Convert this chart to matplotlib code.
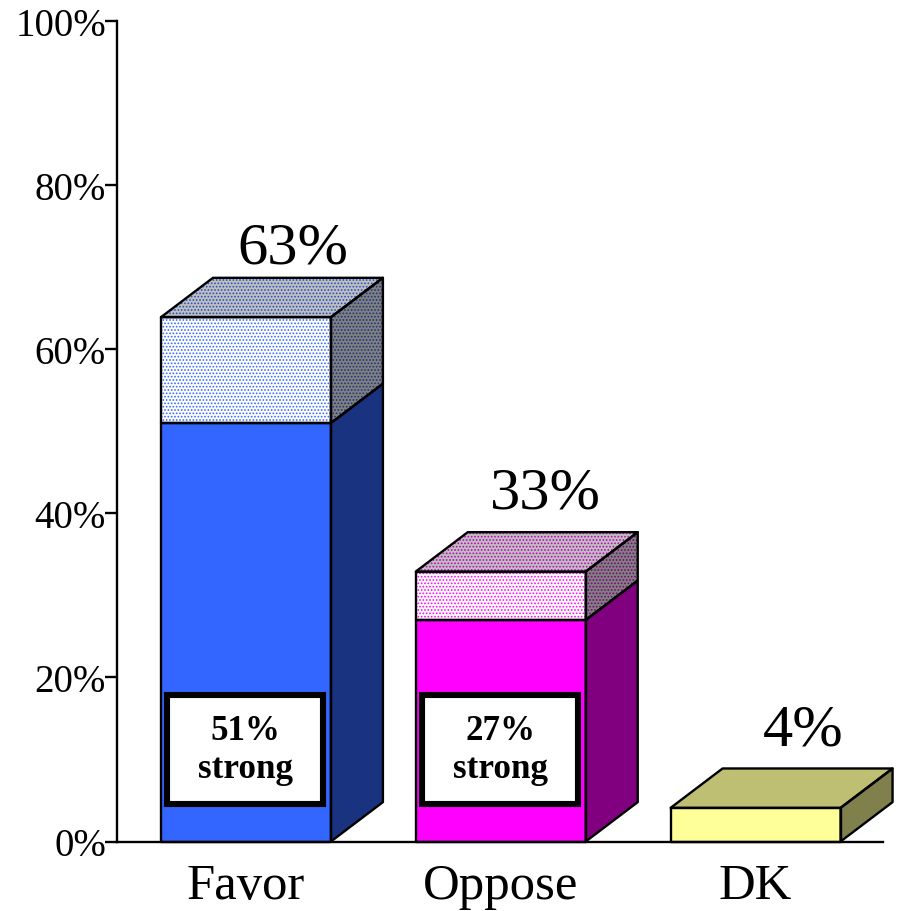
import matplotlib
matplotlib.use("Agg")
import matplotlib.pyplot as plt
from matplotlib.patches import Polygon, Rectangle

plt.rcParams['font.family'] = ['Liberation Serif', 'DejaVu Serif']
plt.rcParams['hatch.linewidth'] = 0.8

categorias = ["Favor", "Oppose", "DK"]
alturas = [63.9, 32.9, 4.1]
fortes = [51, 27, 4.1]
rotulos = ["63%", "33%", "4%"]
rotulos_y = [70.6, 40.7, 11.8]
rotulos_x = [0.185, 0.175, 0.187]
rotulos_fortes = ["51%\nstrong", "27%\nstrong", None]
cores = ["#3366ff", "#ff00ff", "#ffff99"]
yticks = [0, 20, 40, 60, 80, 100]

largura = 0.667
dx = 0.204
dy = 4.8
lw = 1.7


def escurece(cor, f):
    r, g, b = matplotlib.colors.to_rgb(cor)
    return (r * f, g * f, b * f)


def face(ax, pontos, cor, hatch_cor=None):
    # preenchimento primeiro, depois pontilhado, depois o contorno
    ax.add_patch(Polygon(pontos, closed=True, facecolor=cor, edgecolor='none', zorder=3, clip_on=False))
    if hatch_cor is not None:
        ax.add_patch(Polygon(pontos, closed=True, facecolor='none', edgecolor=hatch_cor,
                             hatch='.....', linewidth=0, zorder=3, clip_on=False))
    ax.add_patch(Polygon(pontos, closed=True, facecolor='none', edgecolor='black',
                         linewidth=lw, joinstyle='round', zorder=4, clip_on=False))


fig = plt.figure(figsize=(9, 9.12), dpi=100)
ax = fig.add_axes([117 / 900, 69.5 / 912, 766 / 900, 820.5 / 912])
ax.set_xlim(-0.506, 2.5)
ax.set_ylim(0, 100)

for i, cat in enumerate(categorias):
    x0 = i - largura / 2
    x1 = i + largura / 2
    h = alturas[i]
    s = fortes[i]
    cor = cores[i]
    tem_parte_fraca = h - s > 0.5

    # parte forte
    face(ax, [(x0, 0), (x1, 0), (x1, s), (x0, s)], cor)
    face(ax, [(x1, 0), (x1 + dx, dy), (x1 + dx, s + dy), (x1, s)], escurece(cor, 0.5))

    if tem_parte_fraca:
        face(ax, [(x0, s), (x1, s), (x1, h), (x0, h)], 'white', cor)
        face(ax, [(x1, s), (x1 + dx, s + dy), (x1 + dx, h + dy), (x1, h)],
             '#808080', escurece(cor, 0.5))
        face(ax, [(x0, h), (x1, h), (x1 + dx, h + dy), (x0 + dx, h + dy)],
             '#bfbfbf', escurece(cor, 0.75))
    else:
        face(ax, [(x0, h), (x1, h), (x1 + dx, h + dy), (x0 + dx, h + dy)],
             escurece(cor, 0.75))

    ax.text(i + rotulos_x[i], rotulos_y[i], rotulos[i], fontsize=43.5, ha='center', va='baseline',
            color='black', zorder=6)

    if rotulos_fortes[i] is not None:
        ax.add_patch(Rectangle((x0 + 0.024, 4.6), 0.612, 13.2, facecolor='white',
                               edgecolor='black', linewidth=4.4, joinstyle='miter', zorder=5))
        ax.text(i - 0.001, 11.2, rotulos_fortes[i], fontsize=25.2, fontweight='bold',
                ha='center', va='center', linespacing=1.22, zorder=6)

ax.set_xticks(range(len(categorias)))
ax.set_xticklabels(categorias, fontsize=36.5)
ax.tick_params(axis='x', length=0, pad=15)
ax.set_yticks(yticks)
ax.set_yticklabels(["{}%".format(v) for v in yticks], fontsize=28)
ax.tick_params(axis='y', length=9, width=lw, pad=-1)

ax.spines['top'].set_visible(False)
ax.spines['right'].set_visible(False)
ax.spines['left'].set_linewidth(lw)
ax.spines['bottom'].set_linewidth(lw)
for s in ax.spines.values():
    s.set_zorder(7)

fig.savefig("out.png", dpi=100)
